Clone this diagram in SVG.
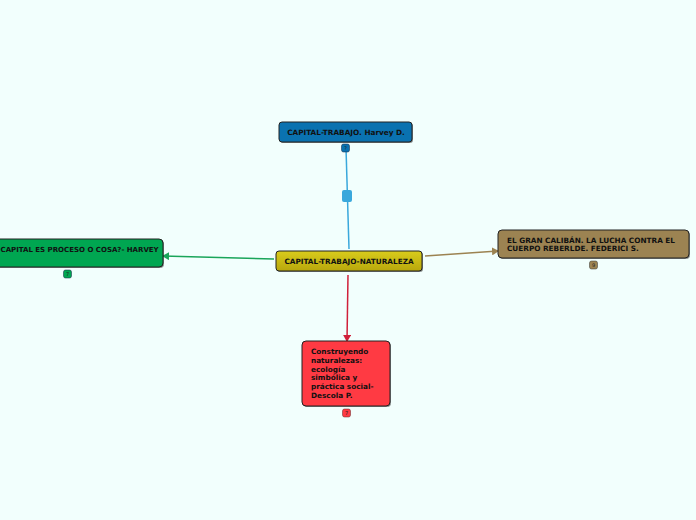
<svg xmlns="http://www.w3.org/2000/svg" width="696" height="520" viewBox="0 0 696 520">
<defs>
<style>
.t{font-family:"DejaVu Sans",Verdana,sans-serif;font-weight:bold;font-size:7.3px;fill:#111}
.b{font-family:"DejaVu Sans",sans-serif;font-size:5px;fill:#222;text-anchor:middle}
.n{stroke:#222;stroke-width:1}
.sh{fill:#333;opacity:0.55}
</style>
<linearGradient id="gy" x1="0" y1="0" x2="0" y2="1"><stop offset="0" stop-color="#d9cc1c"/><stop offset="1" stop-color="#b8a70c"/></linearGradient>
<marker id="ag" markerWidth="8" markerHeight="8" refX="6" refY="4" orient="auto" markerUnits="userSpaceOnUse"><path d="M0,0 L7,4 L0,8 Z" fill="#1aa55a"/></marker>
<marker id="ab" markerWidth="8" markerHeight="8" refX="6" refY="4" orient="auto" markerUnits="userSpaceOnUse"><path d="M0,0 L7,4 L0,8 Z" fill="#9c8352"/></marker>
<marker id="ar" markerWidth="8" markerHeight="8" refX="6" refY="4" orient="auto" markerUnits="userSpaceOnUse"><path d="M0,0 L7,4 L0,8 Z" fill="#d0203a"/></marker>
</defs>
<rect width="696" height="520" fill="#f2fffd"/>
<g id="connectors">
<line x1="346" y1="148" x2="349" y2="249" stroke="#3aa8dc" stroke-width="1.5"/>
<rect x="342" y="190" width="10" height="12" rx="2" fill="#3aa8dc"/>
<line x1="274" y1="259" x2="163" y2="256" stroke="#1aa55a" stroke-width="1.5" marker-end="url(#ag)"/>
<line x1="425" y1="256" x2="498" y2="251" stroke="#9c8352" stroke-width="1.5" marker-end="url(#ab)"/>
<line x1="348" y1="275" x2="347" y2="341" stroke="#d0203a" stroke-width="1.5" marker-end="url(#ar)"/>
</g>
<g id="center">
<rect class="sh" x="277" y="252" width="146" height="20" rx="3"/>
<rect class="n" x="276" y="251" width="146" height="20" rx="3" fill="url(#gy)"/>
<text class="t" x="349" y="264" text-anchor="middle">CAPITAL-TRABAJO-NATURALEZA</text>
</g>
<g id="top">
<rect class="sh" x="280" y="123" width="133" height="20" rx="3"/>
<rect class="n" x="279" y="122" width="133" height="20" rx="3" fill="#0a72b0"/>
<text class="t" x="346" y="135" text-anchor="middle">CAPITAL-TRABAJO. Harvey D.</text>
<rect x="341.5" y="144" width="8" height="8" rx="2" fill="#0a72b0" stroke="#124" stroke-width="0.5"/>
<text class="b" x="345.5" y="150">?</text>
</g>
<g id="left">
<rect class="sh" x="-9" y="240" width="173" height="28" rx="4"/>
<rect class="n" x="-10" y="239" width="173" height="28" rx="4" fill="#00a651"/>
<text class="t" x="0.5" y="252" style="font-size:7px">CAPITAL ES PROCESO O COSA?- HARVEY</text>
<rect x="63.5" y="270" width="8" height="8" rx="2" fill="#00a651" stroke="#124" stroke-width="0.5"/>
<text class="b" x="67.5" y="276">7</text>
</g>
<g id="right">
<rect class="sh" x="499" y="231" width="191" height="28" rx="4"/>
<rect class="n" x="498" y="230" width="191" height="28" rx="4" fill="#9c8352"/>
<text class="t" x="507" y="243">EL GRAN CALIBÁN. LA LUCHA CONTRA EL</text>
<text class="t" x="507" y="251">CUERPO REBERLDE. FEDERICI S.</text>
<rect x="589.5" y="261" width="8" height="8" rx="2" fill="#9c8352" stroke="#333" stroke-width="0.5"/>
<text class="b" x="593.5" y="267">9</text>
</g>
<g id="bottom">
<rect class="sh" x="303" y="342" width="88" height="65" rx="4"/>
<rect class="n" x="302" y="341" width="88" height="65" rx="4" fill="#ff3a43"/>
<text class="t" x="311" y="354">Construyendo</text>
<text class="t" x="311" y="363">naturalezas:</text>
<text class="t" x="311" y="371.5">ecología</text>
<text class="t" x="311" y="380">simbólica y</text>
<text class="t" x="311" y="389">práctica social-</text>
<text class="t" x="311" y="397.5">Descola P.</text>
<rect x="342.5" y="409" width="8" height="8" rx="2" fill="#ff3a43" stroke="#622" stroke-width="0.5"/>
<text class="b" x="346.5" y="415">7</text>
</g>
</svg>
